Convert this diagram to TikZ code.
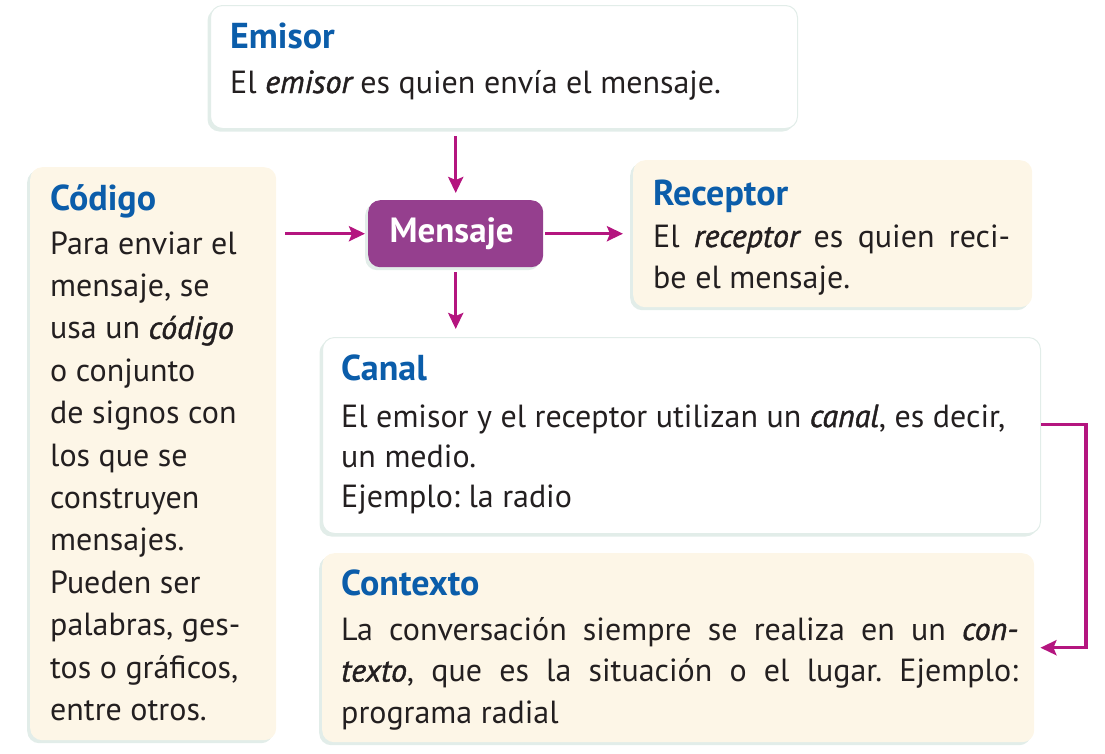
\documentclass[tikz,border=0pt]{standalone}
\usepackage{fontspec}
\setmainfont{PT Sans}
\newfontface\semiit{PT Sans Italic}[FakeBold=1.3]
\usepackage{xcolor}
\usetikzlibrary{positioning,shadows,arrows.meta}
\definecolor{tBlue}{HTML}{0B5DAA}
\definecolor{mPurple}{HTML}{953F8E}
\definecolor{aMag}{HTML}{B4157F}
\definecolor{cream}{HTML}{FDF6E7}
\definecolor{shade}{HTML}{E2EDE9}
\definecolor{ink}{HTML}{231F20}
\tikzset{box/.style={rounded corners=12pt, anchor=north west, inner sep=0pt,
  drop shadow={shadow xshift=-3pt, shadow yshift=-3pt, fill=shade, opacity=1}}}
\tikzset{wbox/.style={box, fill=white, draw=shade, line width=1pt}}
\tikzset{cbox/.style={box, fill=cream}}
\tikzset{ttl/.style={anchor=base west, inner sep=0pt, text=tBlue,
  font=\fontsize{36}{40}\selectfont\bfseries}}
\tikzset{bdy/.style={anchor=base west, inner sep=0pt, text=ink,
  font=\fontsize{32}{42}\selectfont\frenchspacing}}
\tikzset{arr/.style={draw=aMag, line width=3.5pt,
  -{Stealth[length=16pt, width=15pt, inset=3pt]}}}
\newcommand{\lines}[3]{\parbox[t]{#1}{\baselineskip=#2 #3}}
\newcommand{\enf}[1]{{\semiit #1}}

\begin{document}
\begin{tikzpicture}[x=1pt, y=-1pt]
    \useasboundingbox (0,0) rectangle (1105,753);
    %% boxes
    \node (emi) at (210,5) [wbox, minimum width=587pt, minimum height=123pt] {};
    \node (cod) at (30,167) [cbox, minimum width=246pt, minimum height=573pt] {};
    \node (rec) at (633,160) [cbox, minimum width=399pt, minimum height=147pt] {};
    \node (can) at (322,337) [wbox, minimum width=718pt, minimum height=196pt] {};
    \node (ctx) at (322,553) [cbox, minimum width=712pt, minimum height=189pt] {};
    \node (msg) at (368,200) [box, fill=mPurple, minimum width=175pt,
        minimum height=67pt] {};
    \node (msgT) at ([xshift=-4pt]msg.center) [text=white,
        font=\fontsize{35}{40}\selectfont\bfseries] {Mensaje};
    %% Emisor
    \node (emiT) at (230,48) [ttl] {Emisor};
    \node (emiB) at (230,93) [bdy] {El \enf{emisor} es quien envía el mensaje.};
    %% Codigo
    \node (codT) at (50,210) [ttl] {Código};
    \node (codB) at (50,254) [bdy] {\lines{230pt}{42.4pt}{Para enviar el\\
        mensaje, se\\ usa un \enf{código}\\ o conjunto\\ de signos con\\
        los que se\\ construyen\\ mensajes.\\ Pueden ser\\ palabras, ges-\\
        tos o gráficos,\\ entre otros.}};
    %% Receptor
    \node (recT) at (653,205) [ttl] {Receptor};
    \node (recB) at (653,247) [bdy] {\lines{370pt}{41pt}{%
        \makebox[357pt][s]{El \enf{receptor} es quien reci-}\\
        be el mensaje.}};
    %% Canal
    \node (canT) at (341,380) [ttl] {Canal};
    \node (canB) at (341,427) [bdy] {\lines{690pt}{40pt}{%
        El emisor y el receptor utilizan un \enf{canal}, es decir,\\
        un medio.\\ Ejemplo: la radio}};
    %% Contexto
    \node (ctxT) at (341,595) [ttl] {Contexto};
    \node (ctxB) at (341,640) [bdy] {\lines{690pt}{41.5pt}{%
        \makebox[677pt][s]{La conversación siempre se realiza en un \enf{con-}}\\
        \makebox[677pt][s]{\enf{texto}, que es la situación o el lugar. Ejemplo:}\\
        programa radial}};
    %% arrows
    \draw [arr, shorten <=7pt, shorten >=7pt] (emi.south -| msg.north) to (msg.north);
    \draw [arr, shorten <=9pt, shorten >=3pt] (cod.east |- msg.west) to (msg.west);
    \draw [arr, shorten <=2pt, shorten >=10pt] (msg.east) to (msg.east -| rec.west);
    \draw [arr, shorten <=5pt, shorten >=8pt] (msg.south) to (msg.south |- can.north);
    \draw [arr, shorten >=6pt] ([yshift=11pt]can.east) -- ++(45,0) |- (ctx.east);
\end{tikzpicture}
\end{document}
